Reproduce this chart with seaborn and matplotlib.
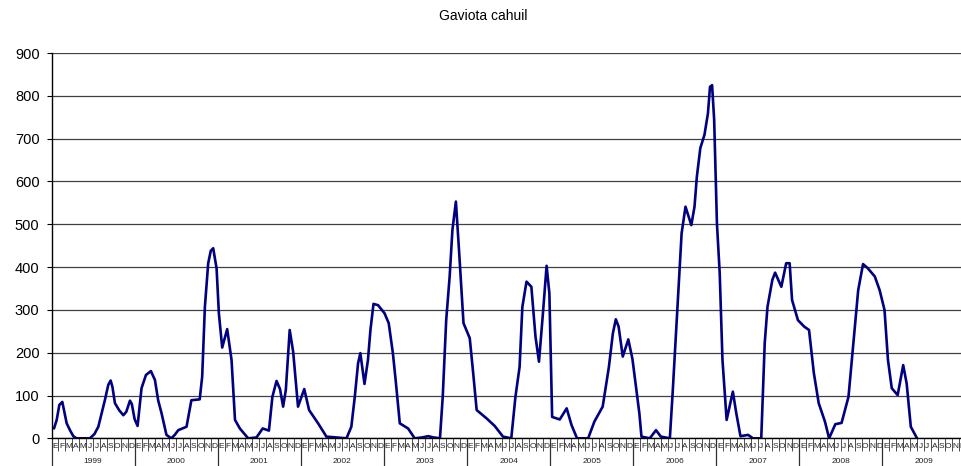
import numpy as np
import pandas as pd
import matplotlib
matplotlib.use("Agg")
import matplotlib.pyplot as plt
import seaborn as sns

# ---- data (time in months since 1 Jan 1999, counts) ----
months_since_jan1999 = [
    0.36, 0.75, 1.13, 1.56, 1.8, 2.19, 2.7, 3.15, 3.6, 5.55, 6.2, 6.76, 7.72, 8.2, 8.54, 8.8,
    9.16, 9.8, 10.37, 10.8, 11.33, 11.6, 12.0, 12.43, 13.0, 13.64, 14.36, 14.94, 15.4, 15.9,
    16.6, 17.3, 17.8, 18.3, 19.5, 20.2, 21.4, 21.76, 22.15, 22.63, 23.0, 23.35, 23.84, 24.17,
    24.65, 25.37, 26.0, 26.5, 27.2, 28.4, 29.6, 30.5, 31.4, 31.9, 32.5, 33.0, 33.45, 33.84,
    34.4, 34.9, 35.6, 36.5, 37.2, 38.5, 39.7, 42.6, 43.3, 43.8, 44.27, 44.6, 45.2, 45.7,
    46.06, 46.5, 47.16, 48.1, 48.7, 49.3, 49.7, 50.3, 51.5, 52.45, 53.5, 54.4, 55.2, 56.1,
    56.5, 57.0, 57.5, 57.9, 58.4, 58.85, 59.5, 60.4, 60.9, 61.4, 62.8, 64.0, 65.2, 66.4,
    67.0, 67.6, 68.0, 68.6, 69.3, 69.9, 70.4, 70.97, 71.5, 71.9, 72.3, 73.4, 74.4, 75.1,
    75.9, 77.5, 78.4, 79.6, 80.5, 81.07, 81.5, 81.9, 82.5, 83.3, 83.9, 84.5, 84.9, 85.2,
    86.4, 87.3, 88.0, 89.3, 89.7, 90.4, 91.0, 91.56, 92.4, 92.86, 93.2, 93.7, 94.3, 94.8,
    95.1, 95.4, 95.7, 96.1, 96.5, 96.9, 97.5, 98.4, 98.9, 99.5, 100.6, 101.3, 102.5, 103.0,
    103.4, 104.1, 104.5, 105.4, 106.1, 106.6, 106.95, 107.8, 108.7, 109.4, 110.1, 110.8,
    111.7, 112.3, 113.2, 114.1, 115.1, 115.8, 116.5, 117.2, 117.9, 118.9, 119.6, 120.3,
    120.8, 121.35, 122.2, 123.0, 123.5, 124.1, 125.0,
]
gull_counts = [
    23, 43, 78, 85, 66, 35, 18, 5, 0, 0, 10, 27, 90, 125, 135, 120,
    82, 65, 54, 62, 88, 80, 45, 29, 117, 148, 157, 136, 89, 58,
    8, 0, 8, 19, 27, 89, 91, 144, 307, 409, 438, 444, 397, 292,
    212, 255, 183, 43, 23, 0, 2, 23, 18, 97, 134, 115, 74, 113,
    253, 202, 74, 115, 66, 35, 4, 0, 27, 97, 175, 199, 127, 183,
    253, 314, 311, 292, 269, 199, 136, 35, 23, 0, 2, 5, 2, 0,
    97, 276, 378, 487, 553, 440, 269, 234, 152, 66, 47, 29, 4, 0,
    97, 167, 307, 366, 354, 237, 179, 292, 403, 339, 50, 44, 70, 31,
    0, 0, 39, 74, 167, 245, 278, 261, 191, 231, 185, 110, 58, 4,
    0, 19, 4, 0, 105, 307, 479, 541, 498, 541, 611, 678, 709, 759,
    821, 825, 744, 502, 386, 183, 43, 109, 58, 5, 8, 0, 0, 222,
    307, 370, 387, 354, 409, 409, 323, 276, 261, 253, 152, 82,
    39, 0, 33, 36, 97, 222, 346, 407, 397, 378, 346, 300,
    183, 117, 101, 171, 128, 27, 0,
]
years = [str(y) for y in range(1999, 2010)]
month_letters = ["E", "F", "M", "A", "M", "J", "J", "A", "S", "O", "N", "D"]
y_ticks = list(range(0, 1000, 100))
title = "Gaviota cahuil"

# ---- style ----
sns.set_style("white")
plt.rcParams["font.family"] = ["Liberation Sans", "DejaVu Sans"]

fig = plt.figure(figsize=(9.61, 4.66), dpi=100)
ax = fig.add_axes([0.0536, 0.0594, 0.9511, 0.8268])

df = pd.DataFrame({"t": months_since_jan1999, "n": gull_counts})
sns.lineplot(data=df, x="t", y="n", ax=ax, color="#000080", linewidth=1.9,
             estimator=None, sort=False, solid_joinstyle="round", solid_capstyle="round")

n_months = 12 * len(years)
ax.set_xlim(0, n_months)
ax.set_ylim(0, 900)
ax.set_yticks(y_ticks)
ax.set_yticklabels([str(v) for v in y_ticks], fontsize=10.5)
ax.yaxis.grid(True, color="#404040", linewidth=0.9)
ax.set_axisbelow(True)
ax.set_xlabel("")
ax.set_ylabel("")

for s in ["top", "right"]:
    ax.spines[s].set_visible(False)
for s in ["left", "bottom"]:
    ax.spines[s].set_color("black")
    ax.spines[s].set_linewidth(1.0)

ax.tick_params(axis="y", direction="out", length=3.6, width=0.8, pad=5, colors="black", left=True)
ax.set_xticks(np.arange(0, n_months + 1, 12))
ax.set_xticklabels([])
ax.set_xticks(np.arange(0, n_months + 1, 1), minor=True)
ax.tick_params(axis="x", which="major", direction="out", length=20.5, width=0.9, color="#303030", bottom=True)
ax.tick_params(axis="x", which="minor", direction="out", length=9.3, width=0.6, color="#303030", bottom=True)

tr = ax.get_xaxis_transform()
for yi, yr in enumerate(years):
    for mi, ml in enumerate(month_letters):
        ax.text(yi * 12 + mi + 0.5, -0.022, ml, transform=tr, ha="center", va="center",
                fontsize=6, color="#222222", clip_on=False)
    ax.text(yi * 12 + 6, -0.061, yr, transform=tr, ha="center", va="center",
            fontsize=6, color="#222222", clip_on=False)

fig.text(0.503, 0.966, title, ha="center", va="center", fontsize=10, color="black")

fig.savefig("out.png", dpi=100)
